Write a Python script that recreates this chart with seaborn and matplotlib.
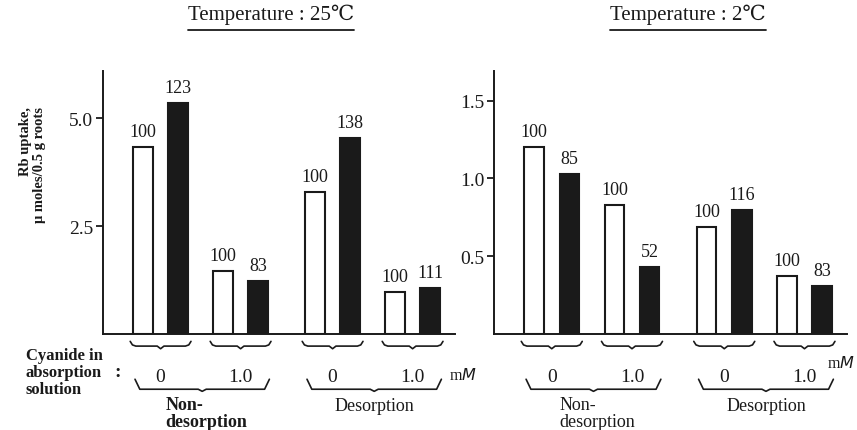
import matplotlib.pyplot as plt
import numpy as np
import pandas as pd
import seaborn as sns
from matplotlib.lines import Line2D

# values (Rb uptake, umoles / 0.5 g roots)
group_names = ["Non-\ndesorption", "Desorption"]
cyanide_levels = ["0", "1.0", "0", "1.0"]
titles = ["Temperature : 25℃", "Temperature : 2℃"]

uptake_25_control = [4.34, 1.47, 3.30, 0.97]
uptake_25_cyanide = [5.35, 1.22, 4.55, 1.07]
pct_25 = [123, 83, 138, 111]

uptake_2_control = [1.20, 0.83, 0.69, 0.37]
uptake_2_cyanide = [1.03, 0.43, 0.80, 0.31]
pct_2 = [85, 52, 116, 83]

control_pct = 100
yticks_25 = [2.5, 5.0]
yticks_2 = [0.5, 1.0, 1.5]

sns.set_theme(style="ticks")
plt.rcParams["font.family"] = ["Liberation Serif", "DejaVu Serif", "DejaVu Sans"]
ink = "#1a1a1a"

# layout: two cyanide levels inside each group, a wider gap between groups
pair_pos = np.array([0.0, 1.0, 2.15, 3.15])
off = 0.219


def make_frame(control, cyanide):
    return pd.DataFrame({
        "pos": np.concatenate([pair_pos - off, pair_pos + off]),
        "uptake": list(control) + list(cyanide),
        "series": ["control"] * 4 + ["cyanide"] * 4,
    })


def brace(ax, x0, x1, ytop, yline, ytip, curl):
    # small curly brace under a pair of bars
    tr = ax.get_xaxis_transform()
    xc = (x0 + x1) / 2
    xs = [x0, x0 + curl * 0.4, x0 + curl, xc - curl * 0.6, xc, xc + curl * 0.6, x1 - curl, x1 - curl * 0.4, x1]
    ys = [ytop, yline + (ytop - yline) * 0.25, yline, yline, ytip, yline, yline, yline + (ytop - yline) * 0.25, ytop]
    ax.add_line(Line2D(xs, ys, transform=tr, color=ink, lw=1.2, clip_on=False))


def bracket(ax, x0, x1, ytop, yline, ytip, slant):
    # wide bracket with slanted ends under a group
    tr = ax.get_xaxis_transform()
    xc = (x0 + x1) / 2
    xs = [x0, x0 + slant, xc - 0.05, xc, xc + 0.05, x1 - slant, x1]
    ys = [ytop, yline, yline, ytip, yline, yline, ytop]
    ax.add_line(Line2D(xs, ys, transform=tr, color=ink, lw=1.2, clip_on=False))


fig = plt.figure(figsize=(8.57, 4.31), dpi=100)
ax1 = fig.add_axes([103 / 857, 96 / 431, 352 / 857, 263 / 431])
ax2 = fig.add_axes([494 / 857, 96 / 431, 353 / 857, 263 / 431])

panels = [
    (ax1, uptake_25_control, uptake_25_cyanide, pct_25, 6.1, yticks_25, 3.6, -0.156, True),
    (ax2, uptake_2_control, uptake_2_cyanide, pct_2, 1.69, yticks_2, 3.43, -0.112, False),
]

for ax, ctrl, cyan, pct, ytop, ticks, mm_x, mm_y, bold_group in panels:
    df = make_frame(ctrl, cyan)
    sns.barplot(data=df, x="pos", y="uptake", hue="series", native_scale=True, dodge=False,
                palette={"control": "white", "cyanide": ink}, edgecolor=ink, linewidth=1.5,
                width=0.557, errorbar=None, legend=False, ax=ax)
    ax.set_xlim(-0.72, 3.68)
    ax.set_ylim(0, ytop)
    ax.set_yticks(ticks)
    ax.set_yticklabels([f"{t:.1f}" for t in ticks])
    ax.set_xticks([])
    ax.set_xlabel("")
    ax.set_ylabel("")
    sns.despine(ax=ax)
    for s in ["left", "bottom"]:
        ax.spines[s].set_color(ink)
        ax.spines[s].set_linewidth(1.4)
    ax.tick_params(axis="y", direction="out", length=5, width=1.3, colors=ink, labelsize=14, pad=2)

    for i in range(4):
        ax.annotate(str(control_pct), (pair_pos[i] - off, ctrl[i]), xytext=(0, 5),
                    textcoords="offset points", ha="center", va="bottom", fontsize=13, color=ink)
        ax.annotate(str(pct[i]), (pair_pos[i] + off, cyan[i]), xytext=(0, 5),
                    textcoords="offset points", ha="center", va="bottom", fontsize=13, color=ink)

    tr = ax.get_xaxis_transform()
    for i in range(4):
        brace(ax, pair_pos[i] - 0.38, pair_pos[i] + 0.38, -0.028, -0.046, -0.056, 0.07)
        ax.text(pair_pos[i], -0.163, cyanide_levels[i], transform=tr, ha="center", va="center",
                fontsize=14, color=ink)
    for g in range(2):
        a, b = pair_pos[2 * g], pair_pos[2 * g + 1]
        bracket(ax, a - 0.32, b + 0.36, -0.172, -0.21, -0.218, 0.06)
        if g == 0:
            ax.text((a + b) / 2 + 0.07, -0.30, group_names[g], transform=tr, ha="center", va="center",
                    multialignment="left", fontsize=13, color=ink,
                    fontweight="bold" if bold_group else "normal", linespacing=1.0)
        else:
            ax.text((a + b) / 2 + 0.02, -0.27, group_names[g], transform=tr, ha="center", va="center",
                    fontsize=13, color=ink)
    ax.text(mm_x, mm_y, "m$\\it{M}$", transform=tr, ha="left", va="center", fontsize=11.5, color=ink)

fig.text(33 / 857, 1 - 165 / 431, "Rb uptake,\nμ moles/0.5 g roots", rotation=90, ha="center", va="center",
         multialignment="right", fontsize=10.5, fontweight="bold", color=ink, linespacing=1.1)
fig.text(26 / 857, 1 - 373 / 431, "Cyanide in\nabsorption\nsolution", ha="left", va="center",
         fontsize=12, fontweight="bold", color=ink, linespacing=1.05)
fig.text(118 / 857, 1 - 373 / 431, ":", ha="center", va="center", fontsize=14, fontweight="bold", color=ink)

title_objs = [
    fig.text(271 / 857, 1 - 15 / 431, titles[0], ha="center", va="center", fontsize=15, color=ink),
    fig.text(688 / 857, 1 - 15 / 431, titles[1], ha="center", va="center", fontsize=15, color=ink),
]
fig.canvas.draw()
renderer = fig.canvas.get_renderer()
W, H = fig.bbox.width, fig.bbox.height
for t in title_objs:
    bb = t.get_window_extent(renderer)
    y = (bb.y0 - 6) / H
    fig.add_artist(Line2D([bb.x0 / W, bb.x1 / W], [y, y], color=ink, lw=1.3))

fig.savefig("out.png", dpi=100, facecolor="white")
